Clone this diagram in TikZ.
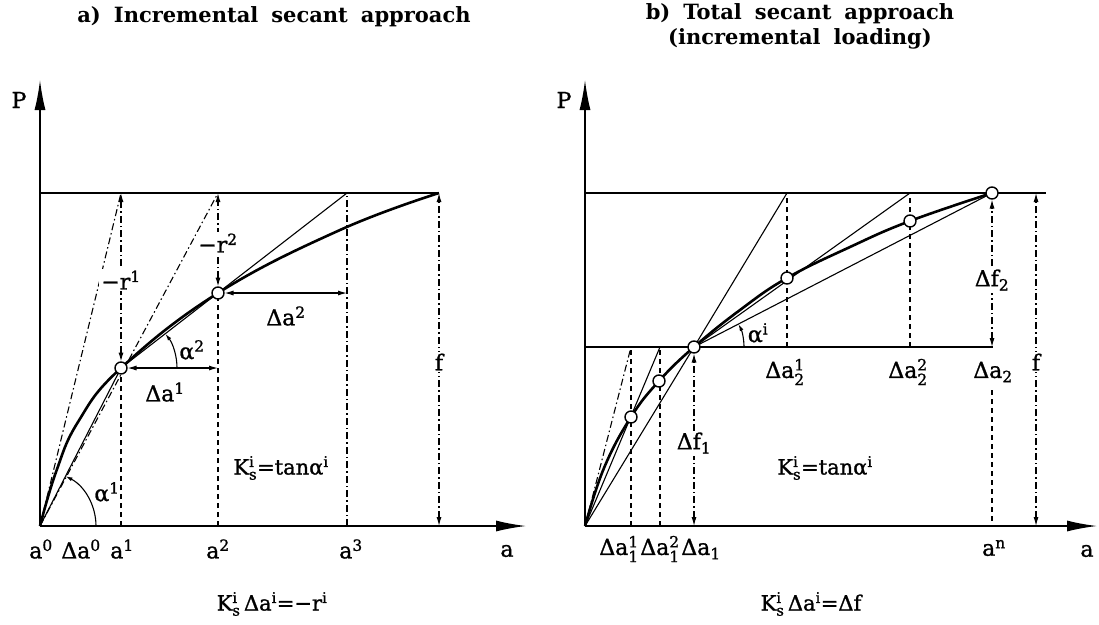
\documentclass[tikz,border=0pt]{standalone}
\usepackage{amsmath}
\usepackage{fontspec}
\setmainfont{DejaVu Serif}
\usetikzlibrary{arrows.meta}
\newcommand\Ksi{K$^{\text{i}}_{\text{s}}$}
\newcommand\SupSub[2]{$^{\text{#1}}_{\text{#2}}$}
\newcommand\Sup[1]{$^{\text{#1}}$}
\newcommand\Sub[1]{$_{\text{#1}}$}
\newcommand\wsp{\hspace{13pt}}
\begin{document}
\begin{tikzpicture}[x=1pt,y=-1pt,
  thinl/.style={line width=1.1pt},
  curve/.style={line width=2.6pt},
  dashdot/.style={line width=1.1pt, dash pattern=on 7pt off 3pt on 1.5pt off 3pt},
  vdash/.style={line width=1.2pt, dash pattern=on 5pt off 4pt},
  dimarrow/.style={line width=1.1pt,{Latex[length=9pt,width=5pt]}-{Latex[length=9pt,width=5pt]}},
  arcarrow/.style={line width=1.1pt,-{Latex[length=7pt,width=4pt]}},
  axis/.style={line width=1.5pt,-{Latex[length=30pt,width=11pt]}},
  ptc/.style={circle, draw, fill=white, line width=1.4pt, inner sep=0pt, minimum size=12pt},
  lbl/.style={font=\fontsize{22}{26}\selectfont\addfontfeatures{FakeBold=1.2}, inner sep=1pt},
  klbl/.style={font=\fontsize{21}{25}\selectfont\addfontfeatures{FakeBold=1.2}, inner sep=1pt},
  wlbl/.style={lbl, fill=white, inner sep=2pt},
  ttl/.style={font=\fontsize{21}{25}\selectfont\bfseries, align=center}
]
\useasboundingbox (0,0) rectangle (1099,624);
% ---------------- LEFT PANEL ----------------
\coordinate (O1) at (40,526);
\coordinate (Yt1) at (40,80);
\coordinate (Xt1) at (526,526);
\coordinate (L1) at (40,193);
\coordinate (T1a) at (121,193);
\coordinate (T1b) at (218,193);
\coordinate (T1c) at (347,193);
\coordinate (T1f) at (439,193);
\coordinate (B1a) at (121,526);
\coordinate (B1b) at (218,526);
\coordinate (B1c) at (347,526);
\coordinate (B1f) at (439,526);
\coordinate (c11) at (121,368);
\coordinate (c12) at (218,293);
\coordinate (H11) at (218,368);
\coordinate (H12) at (347,293);

\draw[axis] (O1) -- (Yt1);
\draw[axis] (O1) -- (Xt1);
\draw[thinl] (L1) -- (T1f);
\draw[dashdot] (O1) -- (T1a);
\draw[dashdot] (O1) -- (T1b);
\draw[thinl] (O1) -- (c11);
\draw[thinl] (c11) -- (T1c);
\draw[vdash] (B1a) -- (c11);
\draw[vdash] (B1b) -- (c12);
\draw[dashdot] (B1c) -- (T1c);
\draw[dimarrow, dashdot, shorten <=6.5pt] (c11) -- (T1a);
\draw[dimarrow, dashdot, shorten <=6.5pt] (c12) -- (T1b);
\draw[dimarrow, dashdot] (B1f) -- (T1f);
\draw[dimarrow, shorten <=6.5pt] (c11) -- (H11);
\draw[dimarrow, shorten <=6.5pt] (c12) -- (H12);
\draw[curve] plot[smooth, tension=0.7] coordinates {(40,526) (56,472) (78,422) (121,368) (218,293) (340,230) (439,193)};
\draw[arcarrow] (O1) ++(56pt,0pt) arc[start angle=0, end angle=62.9, radius=56pt];
\draw[arcarrow] (c11) ++(56pt,0pt) arc[start angle=0, end angle=37.7, radius=56pt];
\node[ptc] (p11) at (c11) {};
\node[ptc] (p12) at (c12) {};

\node[ttl] (tA) at (274,17) {a)\wsp Incremental\wsp secant\wsp approach};
\node[lbl] (PA) at (19,100) {P};
\node[wlbl] (r1) at (121,280) {−r\Sup{1}};
\node[wlbl] (r2) at (218,243) {−r\Sup{2}};
\node[lbl] (da1) at (165,392) {Δa\Sup{1}};
\node[lbl] (da2) at (286,316) {Δa\Sup{2}};
\node[lbl] (al2) at (192,350) {α\Sup{2}};
\node[lbl] (al1) at (107,492) {α\Sup{1}};
\node[wlbl] (fA) at (439,362) {f};
\node[klbl] (KA) at (281,468) {\Ksi=tanα\Sup{i}};
\node[lbl] (a0) at (41,549) {a\Sup{0}};
\node[lbl] (da0) at (81,549) {Δa\Sup{0}};
\node[lbl] (a1) at (122,549) {a\Sup{1}};
\node[lbl] (a2) at (218,549) {a\Sup{2}};
\node[lbl] (a3) at (351,549) {a\Sup{3}};
\node[lbl] (aA) at (507,551) {a};
\node[klbl] (fmA) at (272,604) {\Ksi\,Δa\Sup{i}=−r\Sup{i}};

% ---------------- RIGHT PANEL ----------------
\coordinate (O2) at (585,526);
\coordinate (Yt2) at (585,80);
\coordinate (Xt2) at (1097,526);
\coordinate (L2t) at (585,193);
\coordinate (R2t) at (1046,193);
\coordinate (L2m) at (585,347);
\coordinate (R2m) at (993,347);
\coordinate (cA) at (631,417);
\coordinate (cB) at (659,381);
\coordinate (cP) at (694,347);
\coordinate (cC) at (787,278);
\coordinate (cD) at (910,221);
\coordinate (cE) at (992,193);
\coordinate (M1a) at (631,347);
\coordinate (M1b) at (660,347);
\coordinate (Ba) at (631,526);
\coordinate (Bb) at (660,526);
\coordinate (Bc) at (694,526);
\coordinate (T2a) at (787,193);
\coordinate (T2b) at (910,193);
\coordinate (M2a) at (787,347);
\coordinate (M2b) at (910,347);
\coordinate (M2e) at (992,347);
\coordinate (An) at (992,390);
\coordinate (Bn) at (992,526);
\coordinate (F2t) at (1036,193);
\coordinate (F2b) at (1036,526);

\draw[axis] (O2) -- (Yt2);
\draw[axis] (O2) -- (Xt2);
\draw[thinl] (L2t) -- (R2t);
\draw[thinl] (L2m) -- (R2m);
\draw[dashdot] (O2) -- (M1a);
\draw[thinl] (O2) -- (M1b);
\draw[thinl] (O2) -- (cP);
\draw[thinl] (cP) -- (T2a);
\draw[thinl] (cP) -- (T2b);
\draw[thinl] (cP) -- (cE);
\draw[vdash] (Ba) -- (M1a);
\draw[vdash] (Bb) -- (M1b);
\draw[vdash] (M2a) -- (T2a);
\draw[vdash] (M2b) -- (T2b);
\draw[vdash] (An) -- (Bn);
\draw[dimarrow, dashdot, shorten >=6.5pt] (Bc) -- (cP);
\draw[dimarrow, dashdot, shorten >=6.5pt] (M2e) -- (cE);
\draw[dimarrow, dashdot] (F2b) -- (F2t);
\draw[curve] plot[smooth, tension=0.7] coordinates {(585,526) (604,468) (631,417) (659,381) (694,347) (740,310) (787,278) (850,247) (910,221) (992,193)};
\draw[arcarrow] (cP) ++(50pt,0pt) arc[start angle=0, end angle=27.3, radius=50pt];
\node[ptc] (pA) at (cA) {};
\node[ptc] (pB) at (cB) {};
\node[ptc] (pP) at (cP) {};
\node[ptc] (pC) at (cC) {};
\node[ptc] (pD) at (cD) {};
\node[ptc] (pE) at (cE) {};

\node[ttl] (tB) at (800,26) {b)\wsp Total\wsp secant\wsp approach\\(incremental\wsp loading)};
\node[lbl] (PB) at (564,100) {P};
\node[lbl] (alI) at (758,333) {α\Sup{i}};
\node[lbl] (d21) at (785,372) {Δa\SupSub{1}{2}};
\node[lbl] (d22) at (908,372) {Δa\SupSub{2}{2}};
\node[lbl] (d2) at (993,372) {Δa\Sub{2}};
\node[wlbl] (df2) at (992,280) {Δf\Sub{2}};
\node[wlbl] (df1) at (694,443) {Δf\Sub{1}};
\node[wlbl] (fB) at (1036,362) {f};
\node[klbl] (KB) at (825,468) {\Ksi=tanα\Sup{i}};
\node[lbl] (d11) at (619,549) {Δa\SupSub{1}{1}};
\node[lbl] (d12) at (660,549) {Δa\SupSub{2}{1}};
\node[lbl] (d1) at (701,549) {Δa\Sub{1}};
\node[lbl] (an) at (994,548) {a\Sup{n}};
\node[lbl] (aB) at (1087,551) {a};
\node[klbl] (fmB) at (811,604) {\Ksi\,Δa\Sup{i}=Δf};
\end{tikzpicture}
\end{document}
